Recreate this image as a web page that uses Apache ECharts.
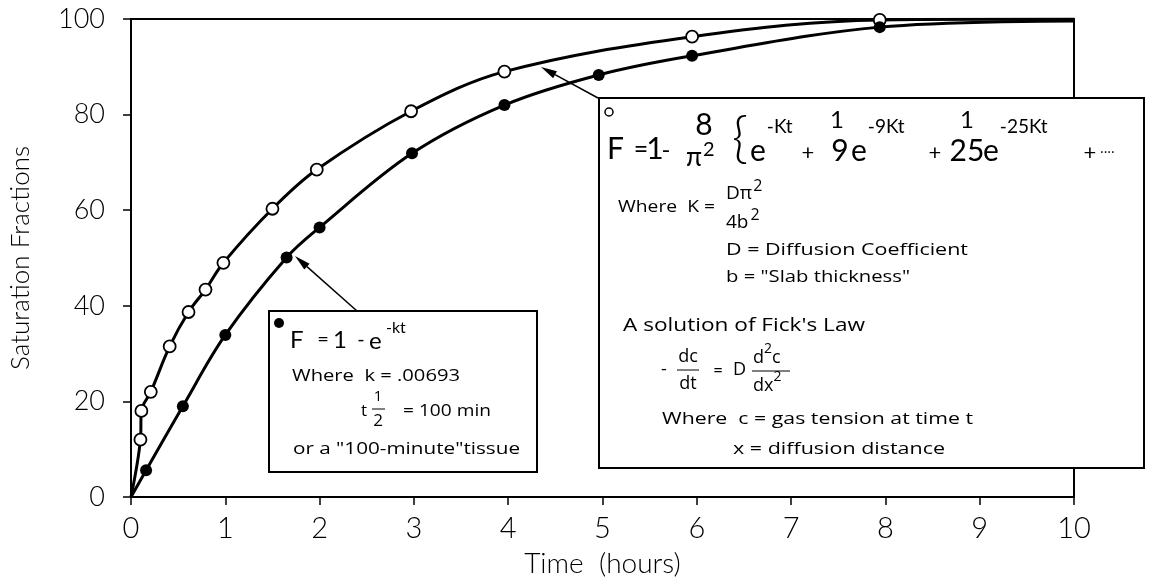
<!DOCTYPE html>
<html>
<head>
<meta charset="utf-8">
<script src="https://cdn.jsdelivr.net/npm/echarts@6/dist/echarts.min.js"></script>
<style>
html,body{margin:0;padding:0;background:#fff;}
#chart{width:1150px;height:583px;}
</style>
</head>
<body>
<div id="chart"></div>
<script>
// ---- data ----
const xTicks = [0,1,2,3,4,5,6,7,8,9,10];
const yTicks = [0,20,40,60,80,100];
// open circles: slab diffusion model
const openT = [0.10, 0.11, 0.21, 0.41, 0.61, 0.79, 0.98, 1.50, 1.97, 2.97, 3.96, 5.95, 7.94];
const openF = [12.0, 18.0, 22.0, 31.5, 38.7, 43.4, 49.0, 60.3, 68.5, 80.7, 89.0, 96.3, 99.8];
// filled circles: exponential model
const filledT = [0.16, 0.55, 1.00, 1.65, 2.00, 2.98, 3.96, 4.96, 5.95, 7.94];
const filledF = [5.6, 19.0, 33.9, 50.1, 56.4, 71.9, 82.0, 88.3, 92.3, 98.3];
// curve end anchors (origin and right edge)
const curveStart = [0, 0];
const openEnd = [10, 100];
const filledEnd = [10, 99.6];

const FONT = "Lato, 'Open Sans', sans-serif";
const TFONT = "'Open Sans', Lato, sans-serif";

const zip = (a, b) => a.map((v, i) => [v, b[i]]);
const openPts = zip(openT, openF);
const filledPts = zip(filledT, filledF);
const openCurve = [curveStart, ...openPts, openEnd];
const filledCurve = [curveStart, ...filledPts, filledEnd];

const chart = echarts.init(document.getElementById('chart'), null, {renderer: 'canvas'});

const mctx = document.createElement('canvas').getContext('2d');
function measure(s, size, weight, fam) {
  mctx.font = (weight || 'normal') + ' ' + size + 'px ' + fam;
  return mctx.measureText(s).width;
}
// text element; optional target width w stretches horizontally
function T(x, y, s, size, align, weight, fam, w) {
  fam = fam || TFONT;
  weight = weight || 'normal';
  const el = {type: 'text', x: x, y: y, z: 120,
    style: {text: s, fontSize: size, fontFamily: fam, fontWeight: weight,
      fill: '#000', align: align || 'left', verticalAlign: 'middle'}};
  if (w) { el.scaleX = w / measure(s, size, weight, fam); }
  return el;
}
// a run of segments [text, size, dy, gapAfter] placed left to right
function run(x, y, segs, weight, fam) {
  fam = fam || FONT; weight = weight || 'normal';
  const out = [];
  let cx = x;
  segs.forEach(function (sg) {
    out.push(T(cx, y + (sg[2] || 0), sg[0], sg[1], 'left', weight, fam));
    cx += measure(sg[0], sg[1], weight, fam) + (sg[3] || 0);
  });
  return out;
}
function arrow(x1, y1, x2, y2) {
  const ang = Math.atan2(y2 - y1, x2 - x1);
  const L = 16, W = 4;
  const bx = x2 - L * Math.cos(ang), by = y2 - L * Math.sin(ang);
  const px = -Math.sin(ang) * W, py = Math.cos(ang) * W;
  return [
    {type: 'line', z: 110, shape: {x1: x1, y1: y1, x2: bx, y2: by}, style: {stroke: '#000', lineWidth: 1.5}},
    {type: 'polygon', z: 110, shape: {points: [[x2, y2], [bx + px, by + py], [bx - px, by - py]]}, style: {fill: '#000'}}
  ];
}
function hline(x1, x2, y) {
  return {type: 'line', z: 120, shape: {x1: x1, y1: y, x2: x2, y2: y}, style: {stroke: '#000', lineWidth: 1}};
}

let graphics = [
  // box 1 (filled circles)
  {type: 'rect', z: 100, shape: {x: 269, y: 311, width: 268, height: 161}, style: {fill: '#fff', stroke: '#000', lineWidth: 2}},
  {type: 'circle', z: 120, shape: {cx: 279, cy: 323, r: 5}, style: {fill: '#000'}},
  T(290, 340, 'F', 24, 'left', 'normal', FONT),
  T(323, 340, '=', 20, 'center', 'normal', FONT),
  T(340, 340, '1', 24, 'center', 'normal', FONT),
  T(361, 340, '-', 20, 'center', 'normal', FONT),
  T(369, 341, 'e', 24, 'left', 'normal', FONT),
  T(386, 328, '-kt', 16, 'left', 'normal', FONT),
  T(292, 376, 'Where  k = .00693', 17, 'left', 'normal', TFONT, 168),
  T(364, 411, 't', 17, 'center'),
  T(378, 397, '1', 15, 'center'),
  hline(372, 385, 409),
  T(378, 421, '2', 17, 'center'),
  T(403, 411, '= 100 min', 17, 'left', 'normal', TFONT, 88),
  T(293, 449, 'or a "100-minute"tissue', 17, 'left', 'normal', TFONT, 227),

  // box 2 (open circles)
  {type: 'rect', z: 100, shape: {x: 599, y: 98, width: 545, height: 370}, style: {fill: '#fff', stroke: '#000', lineWidth: 2}},
  {type: 'circle', z: 120, shape: {cx: 609, cy: 112, r: 4}, style: {fill: '#fff', stroke: '#000', lineWidth: 1.5}},
  T(607, 149, 'F', 30, 'left', 'normal', FONT),
  T(641, 150, '=', 25, 'center', 'normal', FONT),
  T(655, 149, '1', 30, 'center', 'normal', FONT),
  T(666, 150, '-', 24, 'center', 'normal', FONT),
  T(704, 125, '8', 30, 'center', 'normal', FONT),
  T(740, 139, '{', 56, 'center', 300, FONT),
  T(808, 153, '+', 22, 'center', 'normal', FONT),
  T(837, 120, '1', 24, 'center', 'normal', FONT),
  T(840, 151, '9', 30, 'center', 'normal', FONT),
  T(935, 153, '+', 22, 'center', 'normal', FONT),
  T(967, 120, '1', 24, 'center', 'normal', FONT),
  T(967, 151, '25', 30, 'center', 'normal', FONT),
  T(1090, 153, '+', 22, 'center', 'normal', FONT),
  T(1100, 153, '····', 14, 'left'),

  T(618, 207, 'Where  K =', 17, 'left', 'normal', TFONT, 97),
  T(726, 250, 'D = Diffusion Coefficient', 17, 'left', 'normal', TFONT, 242),
  T(726, 277, 'b = "Slab thickness"', 17, 'left', 'normal', TFONT, 184),
  T(623, 326, "A solution of Fick's Law", 18, 'left', 'normal', TFONT, 242),
  T(664, 370, '-', 18, 'center'),
  T(688, 357, 'dc', 18, 'center'),
  hline(677, 699, 370),
  T(688, 384, 'dt', 18, 'center'),
  T(718, 371, '=', 16, 'center'),
  T(733, 370, 'D', 18, 'left'),
  hline(752, 790, 371),
  T(662, 419, 'Where  c = gas tension at time t', 17, 'left', 'normal', TFONT, 311),
  T(733, 449, 'x = diffusion distance', 17, 'left', 'normal', TFONT, 212)
];
graphics = graphics.concat(
  run(686, 158, [['π', 26, 0, 1], ['2', 20, -8]]),
  run(750, 151, [['e', 30, 0, 1], ['-Kt', 19, -24]]),
  run(851, 151, [['e', 30, 0, 1], ['-9Kt', 19, -24]]),
  run(983, 151, [['e', 30, 0, 1], ['-25Kt', 19, -24]]),
  run(726, 194, [['Dπ', 19, 0, 1], ['2', 16, -8]], 'normal', TFONT),
  run(726, 223, [['4b', 19, 0, 2], ['2', 16, -8]], 'normal', TFONT),
  run(753, 358, [['d', 18, 0, 0], ['2', 14, -9, 0], ['c', 18, 0]], 'normal', TFONT),
  run(753, 386, [['dx', 18, 0, 0], ['2', 14, -9]], 'normal', TFONT),
  arrow(357, 311, 295, 256),
  arrow(598, 98, 541, 67)
);

chart.setOption({
  animation: false,
  backgroundColor: '#fff',
  grid: {left: 127, right: 76, top: 19, bottom: 82, show: true, borderColor: '#000', borderWidth: 2},
  xAxis: {
    type: 'value', min: xTicks[0], max: xTicks[xTicks.length - 1], interval: 1,
    name: 'Time  (hours)', nameLocation: 'middle', nameGap: 53,
    nameTextStyle: {fontSize: 28, fontFamily: FONT, fontWeight: 300, color: '#000'},
    axisLine: {lineStyle: {color: '#000', width: 2}},
    axisTick: {inside: false, length: 8, lineStyle: {color: '#000', width: 1.5}},
    axisLabel: {margin: 17, fontSize: 29, fontFamily: FONT, fontWeight: 300, color: '#000'},
    splitLine: {show: false}
  },
  yAxis: {
    type: 'value', min: yTicks[0], max: yTicks[yTicks.length - 1], interval: 20,
    name: 'Saturation Fractions', nameLocation: 'middle', nameGap: 97,
    nameTextStyle: {fontSize: 26, fontFamily: FONT, fontWeight: 300, color: '#000'},
    axisLine: {lineStyle: {color: '#000', width: 2}},
    axisTick: {inside: false, length: 8, lineStyle: {color: '#000', width: 1.5}},
    axisLabel: {margin: 26, fontSize: 27, fontFamily: FONT, fontWeight: 300, color: '#000'},
    splitLine: {show: false}
  },
  series: [
    {type: 'line', data: openCurve, smooth: 0.35, showSymbol: false, symbol: 'none',
      lineStyle: {color: '#000', width: 3}, z: 3},
    {type: 'line', data: filledCurve, smooth: 0.35, showSymbol: false, symbol: 'none',
      lineStyle: {color: '#000', width: 3}, z: 3},
    {type: 'scatter', data: openPts, symbol: 'circle', symbolSize: 12,
      itemStyle: {color: '#fff', borderColor: '#000', borderWidth: 1.8, opacity: 1}, z: 5},
    {type: 'scatter', data: filledPts, symbol: 'circle', symbolSize: 12,
      itemStyle: {color: '#000', opacity: 1}, z: 5}
  ],
  graphic: graphics
});
</script>
</body>
</html>
